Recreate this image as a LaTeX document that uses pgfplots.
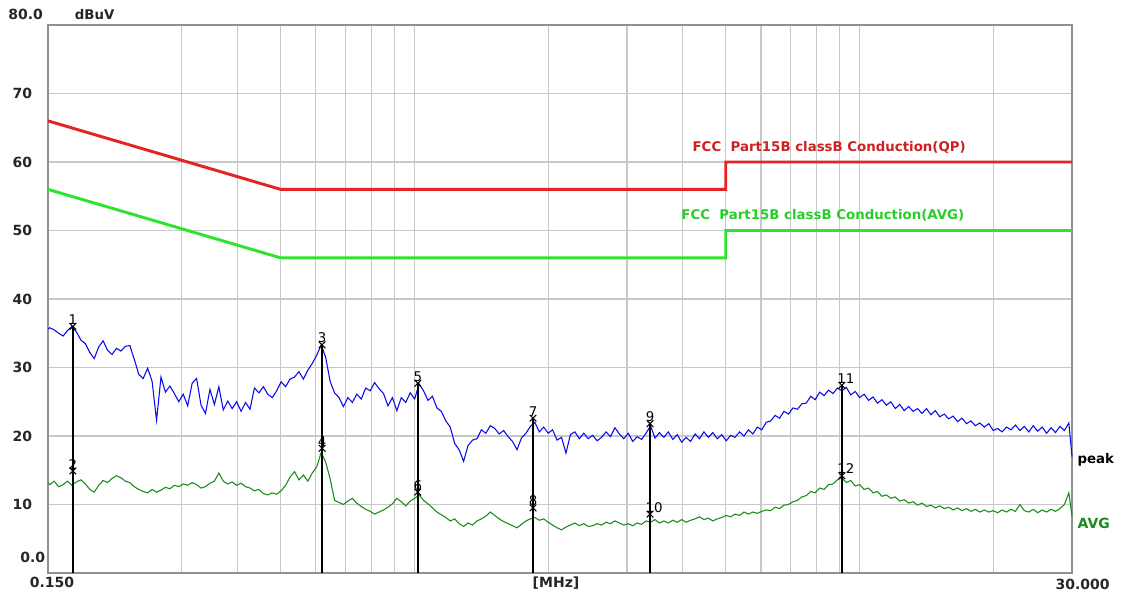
\documentclass[border=0pt]{standalone}
\usepackage{fontspec}
\setmainfont{DejaVu Sans}
\usepackage{pgfplots}
\usepackage{pgfplotstable}
\pgfplotsset{compat=1.18}

\definecolor{pkblue}{RGB}{10,10,235}
\definecolor{avgreen}{RGB}{25,140,25}
\definecolor{qpred}{RGB}{228,35,35}
\definecolor{limgreen}{RGB}{45,228,45}
\definecolor{gridgray}{RGB}{200,200,200}
\definecolor{boxgray}{RGB}{145,145,145}

% columns: log10(f/MHz), peak (dBuV), average (dBuV)
\pgfplotstableread{
lf pk av
-0.8239 35.6 13.2
-0.82 35.8 12.9
-0.81 35.5 13.4
-0.80 35.0 12.6
-0.79 34.6 12.9
-0.78 35.4 13.4
-0.77 36.0 12.8
-0.76 35.2 13.3
-0.75 34.0 13.6
-0.74 33.5 13.0
-0.73 32.2 12.2
-0.72 31.3 11.8
-0.71 33.0 12.8
-0.70 33.9 13.5
-0.69 32.5 13.2
-0.68 31.9 13.8
-0.67 32.8 14.2
-0.66 32.4 13.9
-0.65 33.1 13.4
-0.64 33.2 13.2
-0.63 31.2 12.6
-0.62 29.0 12.2
-0.61 28.4 11.9
-0.60 29.9 11.7
-0.59 28.0 12.2
-0.58 22.3 11.8
-0.57 28.6 12.1
-0.56 26.4 12.5
-0.55 27.3 12.3
-0.54 26.2 12.8
-0.53 25.0 12.6
-0.52 26.1 13.0
-0.51 24.4 12.8
-0.50 27.7 13.2
-0.49 28.4 12.9
-0.48 24.5 12.4
-0.47 23.3 12.6
-0.46 26.8 13.1
-0.45 24.6 13.4
-0.44 27.2 14.6
-0.43 23.8 13.4
-0.42 25.1 13.0
-0.41 24.0 13.3
-0.40 25.0 12.8
-0.39 23.6 13.1
-0.38 24.9 12.6
-0.37 23.9 12.4
-0.36 27.0 12.0
-0.35 26.3 12.2
-0.34 27.2 11.6
-0.33 26.1 11.4
-0.32 25.6 11.7
-0.31 26.6 11.5
-0.30 27.9 12.0
-0.29 27.2 12.8
-0.28 28.3 14.0
-0.27 28.6 14.8
-0.26 29.4 13.6
-0.25 28.3 14.3
-0.24 29.6 13.4
-0.23 30.6 14.6
-0.22 31.8 15.5
-0.21 33.3 17.6
-0.20 31.5 16.2
-0.19 28.0 13.8
-0.18 26.3 10.6
-0.17 25.6 10.3
-0.16 24.3 10.0
-0.15 25.6 10.5
-0.14 24.9 10.9
-0.13 26.1 10.2
-0.12 25.4 9.7
-0.11 27.0 9.3
-0.10 26.6 9.0
-0.09 27.8 8.6
-0.08 26.9 8.9
-0.07 26.2 9.2
-0.06 24.4 9.6
-0.05 25.6 10.1
-0.04 23.7 10.9
-0.03 25.6 10.4
-0.02 24.9 9.8
-0.01 26.3 10.5
0.00 25.4 10.9
0.01 27.6 11.4
0.02 26.6 10.6
0.03 25.2 10.1
0.04 25.8 9.5
0.05 24.1 8.9
0.06 23.6 8.5
0.07 22.2 8.1
0.08 21.3 7.6
0.09 18.9 7.9
0.10 18.0 7.2
0.11 16.3 6.8
0.12 18.6 7.3
0.13 19.4 7.0
0.14 19.6 7.6
0.15 20.9 7.9
0.16 20.4 8.3
0.17 21.5 8.9
0.18 21.1 8.4
0.19 20.3 7.9
0.20 20.8 7.5
0.21 19.9 7.2
0.22 19.2 6.9
0.23 18.0 6.6
0.24 19.7 7.1
0.25 20.4 7.6
0.26 21.4 7.9
0.27 22.0 8.1
0.28 20.6 7.7
0.29 21.3 7.9
0.30 20.4 7.4
0.31 20.9 7.0
0.32 19.4 6.6
0.33 19.8 6.3
0.34 17.5 6.7
0.35 20.2 7.0
0.36 20.6 7.3
0.37 19.6 6.9
0.38 20.4 7.2
0.39 19.6 6.8
0.40 20.1 6.9
0.41 19.3 7.2
0.42 19.8 7.0
0.43 20.6 7.4
0.44 19.9 7.2
0.45 21.2 7.6
0.46 20.3 7.3
0.47 19.6 7.0
0.48 20.4 7.2
0.49 19.2 6.9
0.50 19.9 7.3
0.51 19.5 7.1
0.52 20.4 7.6
0.53 21.5 7.4
0.54 19.7 7.8
0.55 20.5 7.3
0.56 19.8 7.6
0.57 20.6 7.3
0.58 19.5 7.7
0.59 20.2 7.4
0.60 19.1 7.8
0.61 19.8 7.4
0.62 19.2 7.7
0.63 20.3 7.9
0.64 19.6 8.2
0.65 20.6 7.8
0.66 19.8 8.0
0.67 20.5 7.6
0.68 19.6 7.9
0.69 20.2 8.1
0.70 19.3 8.4
0.71 20.1 8.2
0.72 19.8 8.6
0.73 20.6 8.4
0.74 20.0 8.9
0.75 20.9 8.6
0.76 20.3 8.9
0.77 21.3 8.7
0.78 20.9 9.0
0.79 22.0 9.2
0.80 22.2 9.1
0.81 23.0 9.6
0.82 22.6 9.4
0.83 23.6 9.9
0.84 23.2 10.0
0.85 24.1 10.4
0.86 23.9 10.6
0.87 24.7 11.1
0.88 24.8 11.3
0.89 25.8 11.9
0.90 25.3 11.7
0.91 26.4 12.4
0.92 25.9 12.2
0.93 26.7 12.9
0.94 26.2 13.0
0.95 27.0 13.6
0.96 26.6 13.9
0.97 27.1 13.2
0.98 26.0 13.5
0.99 26.5 12.7
1.00 25.6 12.9
1.01 26.1 12.2
1.02 25.2 12.4
1.03 25.7 11.7
1.04 24.8 11.9
1.05 25.3 11.2
1.06 24.5 11.4
1.07 25.0 10.9
1.08 24.0 11.1
1.09 24.6 10.5
1.10 23.7 10.7
1.11 24.3 10.2
1.12 23.6 10.4
1.13 24.0 9.9
1.14 23.3 10.2
1.15 24.0 9.7
1.16 23.1 9.9
1.17 23.7 9.5
1.18 22.8 9.8
1.19 23.2 9.4
1.20 22.5 9.6
1.21 22.9 9.2
1.22 22.1 9.5
1.23 22.6 9.1
1.24 21.8 9.4
1.25 22.2 9.0
1.26 21.5 9.3
1.27 21.9 8.9
1.28 21.3 9.2
1.29 21.8 8.9
1.30 20.8 9.1
1.31 21.1 8.8
1.32 20.6 9.2
1.33 21.3 8.9
1.34 20.9 9.3
1.35 21.6 9.0
1.36 20.8 10.0
1.37 21.4 9.1
1.38 20.6 8.9
1.39 21.5 9.3
1.40 20.7 8.8
1.41 21.3 9.2
1.42 20.4 8.9
1.43 21.2 9.3
1.44 20.5 9.0
1.45 21.4 9.4
1.46 20.8 10.0
1.47 21.9 11.7
1.4771 17.0 8.3
}\scan

\begin{document}
\begin{tikzpicture}
\useasboundingbox (-36pt,-18.75pt) rectangle (804.75pt,429.75pt);
\begin{axis}[
  at={(0,0)}, anchor=south west,
  scale only axis, width=768pt, height=411pt,
  xmin=-0.8239, xmax=1.4771, ymin=0, ymax=80,
  clip=false,
  axis line style={draw=boxgray, line width=1.6pt},
  major tick length=0pt,
  grid=major,
  major grid style={draw=gridgray, line width=0.8pt},
  xtick={-0.5229,-0.3979,-0.3010,-0.2218,-0.1549,-0.0969,-0.0458,0,0.3010,0.4771,0.6021,0.6990,0.7782,0.8451,0.9031,0.9542,1,1.3010},
  xticklabel=\empty,
  ytick={10,20,30,40,50,60,70},
  yticklabels={10,20,30,40,50,60,70},
  yticklabel style={anchor=west, xshift=-30pt, font=\bfseries\fontsize{10.5}{12}\selectfont, text=black!85},
]
% limit lines
\addplot[qpred, line width=2.2pt] coordinates {(-0.8239,66) (-0.3010,56) (0.6990,56) (0.6990,60) (1.4771,60)};
\addplot[limgreen, line width=2.2pt] coordinates {(-0.8239,56) (-0.3010,46) (0.6990,46) (0.6990,50) (1.4771,50)};
% measured traces
\addplot[avgreen, line width=0.8pt] table[x=lf, y=av] {\scan};
\addplot[pkblue, line width=0.8pt] table[x=lf, y=pk] {\scan};
% marker lines
\addplot[ycomb, black, line width=1.6pt] coordinates {(-0.768,36.0) (0.007,27.7) (0.266,22.6) (0.960,27.4)};
\addplot[ycomb, black, line width=0.9pt] coordinates {(-0.208,33.3) (0.529,21.8)};
% markers
\addplot[only marks, mark=x, mark size=3.5pt, black, line width=0.8pt,
  point meta=explicit symbolic, nodes near coords,
  nodes near coords style={font=\fontsize{10}{12}\selectfont, anchor=south, inner sep=0.5pt, yshift=0.5pt}]
  coordinates {(-0.768,36.0)[1] (-0.768,14.9)[2] (-0.208,33.3)[3] (-0.208,18.2)[4]
               (0.007,27.7)[5] (0.007,11.8)[6] (0.266,22.6)[7] (0.266,9.5)[8] (0.529,21.8)[9]};
\addplot[only marks, mark=x, mark size=3.5pt, black, line width=0.8pt,
  point meta=explicit symbolic, nodes near coords,
  nodes near coords style={font=\fontsize{10}{12}\selectfont, anchor=south, inner sep=0.5pt, yshift=0.5pt, xshift=3pt}]
  coordinates {(0.529,8.6)[10] (0.960,27.4)[11] (0.960,14.2)[12]};
% texts
\node[anchor=base west, text=qpred!90!black, font=\bfseries\fontsize{10}{12}\selectfont] at (axis cs:0.614,61.5) {FCC\ \ Part15B classB Conduction(QP)};
\node[anchor=base west, text=limgreen!90!black, font=\bfseries\fontsize{10}{12}\selectfont] at (axis cs:0.589,51.6) {FCC\ \ Part15B classB Conduction(AVG)};
\node[anchor=west, inner sep=0pt, font=\bfseries\fontsize{10}{12}\selectfont] at ([xshift=4pt]axis cs:1.4771,16.5) {peak};
\node[anchor=west, inner sep=0pt, text=avgreen, font=\bfseries\fontsize{10.5}{12}\selectfont] at ([xshift=4pt]axis cs:1.4771,7.2) {AVG};
\node[anchor=base west, inner sep=0pt, font=\bfseries\fontsize{10.5}{12}\selectfont, text=black!85] at ([xshift=-30pt,yshift=4pt]rel axis cs:0,1) {80.0};
\node[anchor=base west, inner sep=0pt, font=\bfseries\fontsize{10}{12}\selectfont, text=black!85] at ([xshift=20pt,yshift=4pt]rel axis cs:0,1) {dBuV};
\node[anchor=base west, inner sep=0pt, font=\bfseries\fontsize{10.5}{12}\selectfont, text=black!85] at ([xshift=-21pt,yshift=8pt]rel axis cs:0,0) {0.0};
\node[anchor=north, inner sep=0pt, font=\bfseries\fontsize{10.5}{12}\selectfont, text=black!85] at ([xshift=3pt,yshift=-3pt]rel axis cs:0,0) {0.150};
\node[anchor=north, inner sep=0pt, font=\bfseries\fontsize{10.5}{12}\selectfont, text=black!85] at ([xshift=-3pt,yshift=-3pt]rel axis cs:0.5,0) {[MHz]};
\node[anchor=north, inner sep=0pt, font=\bfseries\fontsize{10.5}{12}\selectfont, text=black!85] at ([xshift=8pt,yshift=-4.5pt]rel axis cs:1,0) {30.000};
\end{axis}
\end{tikzpicture}
\end{document}
